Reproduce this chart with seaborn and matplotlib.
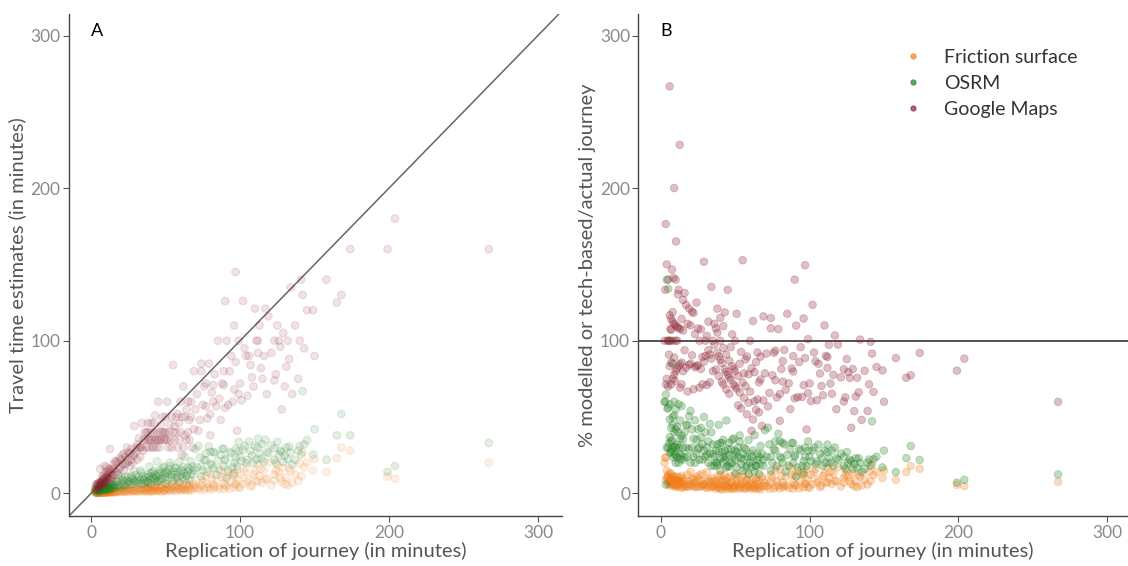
import numpy as np
import pandas as pd
import seaborn as sns
import matplotlib
matplotlib.use("Agg")
import matplotlib.pyplot as plt

# duration of the replicated journey (minutes)
journey = [2.5, 3, 3.4, 3.5, 4, 4, 4.5, 5, 5, 5, 6, 6, 6, 6.5, 7, 7, 7, 7.5, 8, 8, 8, 8.5, 9, 9, 9, 9.5,
           10.3, 10, 10, 10, 11, 11, 11.5, 12, 12, 12.7, 13, 13, 14, 14, 15, 15, 16, 16,
           17, 18, 18, 19, 20, 20, 21, 22, 22, 23, 24, 24, 25, 26, 26, 27, 28, 28, 29, 30, 30, 31, 32, 32, 33, 34, 34, 35,
           36, 36, 37, 38, 38, 38, 39, 40, 40, 40, 41, 42, 42, 43, 43, 44, 44, 45, 45, 46, 46, 47, 48, 48, 49, 50, 50, 50,
           51, 52, 52, 53, 54, 55, 55, 56, 57, 57, 58, 59, 60, 60, 61, 62, 62, 63, 64, 65, 65, 66, 67, 68, 69, 70,
           72, 74, 74, 76, 77, 78, 79, 80, 82, 82, 84, 85, 87, 89, 89, 90, 91, 92, 94, 96, 96, 97, 98, 99, 99,
           101, 102, 104, 106, 108, 110, 111, 112, 113, 115, 116, 117, 119, 123, 123, 125, 126, 128, 129, 131, 132, 134,
           135, 140, 141, 142, 145, 149, 150,
           158, 165, 168, 174, 199, 204, 267,
           5.5, 6, 7, 8, 9, 10, 11, 12, 13, 14, 15, 17, 19, 21, 23, 25, 27, 29, 31, 33, 35, 37, 39, 41, 42,
           44, 46, 47, 49, 51, 53, 54, 56, 58, 59, 61, 63, 64, 66, 67, 69, 71, 73, 75, 77, 80, 81, 83, 86, 88,
           90, 93, 95, 97, 100, 103, 105, 107, 109, 112, 114, 118, 121, 124, 127, 130, 133, 137, 139, 143]

# estimates (minutes)
google = [2.5, 4, 6, 2.5, 6, 3, 4.5, 7, 5, 3.5, 16, 5, 7, 7, 8, 6, 5, 11, 9, 8, 6, 12, 18, 10, 8, 7,
          17, 14, 10, 8, 12, 9, 15, 10, 13, 29, 11, 14, 16, 10, 19, 12, 15, 21,
          14, 20, 12, 23, 17, 22, 19, 26, 15, 24, 30, 20, 21, 26, 18, 29, 25, 20, 44, 27, 30, 22, 30, 36, 24, 46, 30, 35,
          40, 35, 30, 40, 35, 46, 30, 35, 40, 46, 35, 30, 40, 35, 51, 40, 35, 60, 35, 40, 30, 35, 40, 50, 35, 40, 35, 50,
          60, 30, 40, 35, 50, 84, 40, 35, 50, 40, 30, 46, 60, 40, 25, 70, 30, 50, 35, 60, 40, 35, 50, 30, 80, 55,
          41, 85, 80, 70, 57, 49, 85, 38, 71, 60, 57, 100, 48, 80, 71, 126, 100, 58, 90, 110, 68, 145, 41, 100, 65,
          61, 126, 90, 90, 76, 121, 100, 92, 110, 75, 90, 121, 116, 100, 74, 110, 100, 55, 105, 83, 100, 135,
          65, 100, 140, 130, 120, 120, 90,
          140, 125, 130, 160, 160, 180, 160,
          5, 6, 7.5, 9.5, 7, 11, 11, 16, 9, 12, 16, 21, 16, 25, 19, 27, 22, 25, 32, 30, 28, 40, 35, 30, 46,
          30, 35, 45, 40, 35, 45, 30, 44, 52, 35, 50, 38, 55, 48, 60, 42, 65, 48, 58, 72, 52, 66, 78, 62, 72,
          56, 80, 60, 86, 72, 95, 64, 84, 70, 100, 82, 65, 92, 78, 96, 70, 88, 110, 75, 95]

osrm = [1.5, 1.8, 2.2, 0.2, 5.6, 1.2, 2.5, 6.7, 2.8, 1.5, 2.2, 1.6, 2.9, 6.5, 2.0, 3.0, 1.9, 2.6, 6.8, 2.4, 3.6, 2.0, 3.6, 2.3, 5.4, 2.9,
        3.1, 2.5, 4.2, 2.0, 3.5, 2.6, 4.6, 3.6, 7.0, 3.3, 2.9, 4.6, 3.5, 5.3, 4.5, 3.3, 6.4, 3.8,
        5.1, 4.3, 8.1, 5.5, 4.0, 10.8, 6.3, 5.3, 7.9, 4.6, 8.4, 6.2, 10.5, 5.7, 7.8, 11.6, 6.2, 9.0, 8.1, 12.0, 7.2, 9.3, 6.4, 10.9, 8.6, 13.6, 6.1, 11.2,
        8.6, 6.5, 10.4, 12.2, 7.6, 7.0, 10.9, 13.2, 9.2, 6.0, 11.1, 8.4, 14.7, 12.0, 9.5, 7.5, 10.6, 13.1, 8.1, 8.0, 11.5, 13.6, 9.6, 16.8, 12.3, 6.5, 11.0, 14.0,
        8.7, 15.6, 12.5, 18.0, 10.3, 14.3, 8.0, 12.3, 16.5, 9.7, 13.9, 7.5, 12.0, 15.6, 10.4, 17.4, 13.0, 9.0, 11.5, 16.9, 14.3, 8.5, 12.7, 17.7, 15.2, 29.0,
        31.0, 17.8, 11.0, 22.0, 26.2, 14.0, 30.8, 19.2, 27.1, 16.4, 12.0, 21.3, 25.2, 17.8, 29.4, 22.5, 10.0, 15.6, 26.3, 20.2, 13.0, 23.3, 17.6, 27.7, 33.7,
        21.2, 28.6, 19.8, 33.9, 24.8, 30.8, 22.2, 35.8, 26.0, 32.2, 20.9, 35.1, 26.2, 29.5, 22.1, 33.8, 25.2, 27.0, 20.6, 30.1, 22.4, 26.8,
        18.9, 31.0, 25.4, 67.0, 34.8, 25.3, 42.0,
        22, 38, 52, 38, 14, 18, 33,
        1.8, 3.5, 2.4, 4.0, 4.6, 5.5, 4.8, 2.4, 6.2, 8.0, 5.3, 7.6, 9.6, 8.8, 11.0, 7.3, 9.9, 14.5, 7.8, 15.0, 9.0, 7.5, 17.5, 13.5, 10.1,
        21.0, 15.2, 9.4, 17.6, 13.8, 20.1, 12.4, 16.8, 10.4, 20.6, 14.6, 24.0, 11.5, 15.8, 20.8, 12.4, 17.0, 23.4, 15.0, 21.6, 27.2, 18.6, 26.6, 15.5, 29.0,
        21.6, 27.0, 17.1, 29.1, 24.0, 31.0, 22.0, 27.8, 19.6, 30.2, 22.8, 27.1, 31.5, 20.0, 28.0, 24.7, 30.6, 21.9, 28.0, 32.0]

friction = [0.5, 0.7, 0.8, 0.3, 0.6, 0.4, 0.5, 0.6, 0.4, 0.3, 0.6, 0.5, 0.8, 0.4, 0.9, 0.5, 0.6, 0.5, 0.7, 0.5, 0.9, 0.6, 0.8, 0.5, 1.0, 0.7,
            0.6, 0.8, 1.0, 0.5, 1.2, 0.6, 0.9, 1.0, 0.7, 1.0, 1.3, 0.8, 1.1, 1.6, 1.0, 1.5, 0.8, 1.3,
            1.0, 2.2, 0.9, 1.5, 2.8, 1.2, 1.0, 2.0, 1.5, 0.9, 2.6, 1.7, 1.0, 3.1, 1.3, 2.2, 1.4, 3.6, 1.7, 2.4, 1.2, 4.3, 1.6, 2.9, 1.3, 2.4, 3.4, 1.4,
            2.9, 1.8, 1.1, 4.2, 2.3, 1.5, 3.5, 2.0, 1.2, 4.8, 2.9, 1.7, 3.4, 2.2, 5.2, 1.3, 3.5, 2.3, 4.5, 1.8, 2.8, 5.2, 1.4, 3.4, 2.0, 6.0, 2.5, 1.5,
            4.1, 2.6, 5.7, 1.6, 3.2, 2.2, 6.6, 3.9, 1.7, 4.6, 2.9, 7.1, 2.4, 4.2, 1.8, 5.6, 3.1, 2.5, 6.4, 3.9, 1.9, 5.3, 2.7, 7.5, 3.4, 4.9,
            3.6, 8.9, 5.2, 2.3, 11.6, 6.2, 4.0, 12.8, 5.7, 3.3, 9.2, 4.3, 14.8, 6.2, 2.7, 10.8, 4.6, 13.8, 7.5, 3.8, 11.5, 5.8, 15.7, 8.9, 4.0,
            12.1, 6.1, 16.6, 9.5, 5.4, 14.3, 7.8, 19.0, 11.3, 6.9, 15.1, 9.4, 20.2, 12.3, 8.6, 18.8, 13.9, 7.7, 16.8, 10.5, 5.3, 14.7,
            6.8, 19.6, 11.3, 26.9, 20.3, 14.9, 22.5,
            14, 23, 30, 28, 11, 9.5, 20,
            0.5, 0.3, 0.7, 0.4, 0.8, 0.4, 0.9, 0.5, 0.7, 0.5, 0.6, 0.7, 0.8, 2.0, 1.1, 2.4, 1.2, 1.7, 1.1, 2.6, 1.6, 3.0, 1.5, 1.0, 3.9,
            2.0, 1.3, 3.6, 1.9, 3.2, 2.1, 4.6, 1.8, 5.2, 2.3, 3.6, 2.0, 5.4, 2.9, 1.7, 6.1, 3.2, 2.2, 7.4, 3.5, 2.6, 9.0, 4.1, 2.9, 10.5,
            5.0, 3.0, 12.0, 6.3, 3.6, 14.0, 7.5, 4.3, 12.5, 8.0, 16.0, 9.4, 5.4, 15.0, 10.2, 6.0, 16.4, 12.3, 8.0, 17.0]

methods = ["Friction surface", "OSRM", "Google Maps"]
colours = ["#F07F1C", "#1F7F1F", "#8B1E2D"]

# long table, friction first so google sits on top
rows = []
for m, vals in zip(methods, [friction, osrm, google]):
    for x, v in zip(journey, vals):
        rows.append({"journey": x, "estimate": v, "method": m})
df = pd.DataFrame(rows)
df["pct"] = df["estimate"] / df["journey"] * 100

sns.set_theme(style="white")
plt.rcParams["font.family"] = ["Lato", "DejaVu Sans"]

fig = plt.figure(figsize=(11.28, 5.66), dpi=100)
axA = fig.add_axes([0.061, 0.088, 0.437, 0.887])
axB = fig.add_axes([0.566, 0.088, 0.434, 0.887])

pal = dict(zip(methods, colours))

sns.scatterplot(data=df, x="journey", y="estimate", hue="method", palette=pal,
                alpha=0.12, s=30, linewidth=0.9, edgecolor="face", ax=axA, legend=False)
axA.axline((0, 0), slope=1, color="#666666", lw=1.1, zorder=0)

sns.scatterplot(data=df, x="journey", y="pct", hue="method", palette=pal,
                alpha=0.28, s=30, linewidth=0.6, edgecolor="face", ax=axB)
axB.axhline(100, color="#222222", lw=1.1, zorder=0)

for ax, lab, ylab, xmax in [(axA, "A", "Travel time estimates (in minutes)", 316),
                            (axB, "B", "% modelled or tech-based/actual journey", 314)]:
    ax.set_xlim(-15, xmax)
    ax.set_ylim(-15, 314)
    ax.set_xticks([0, 100, 200, 300])
    ax.set_yticks([0, 100, 200, 300])
    ax.tick_params(axis="both", which="both", direction="out", length=4, width=0.8,
                   color="#555555", labelcolor="#8a8a8a", labelsize=12.5, bottom=True, left=True, pad=2)
    for side in ["top", "right"]:
        ax.spines[side].set_visible(False)
    for side in ["left", "bottom"]:
        ax.spines[side].set_color("#444444")
        ax.spines[side].set_linewidth(1.0)
    ax.set_xlabel("Replication of journey (in minutes)", fontsize=14.5, color="#555555", labelpad=1)
    ax.set_ylabel(ylab, fontsize=14.5, color="#555555", labelpad=3)
    ax.text(0, 303, lab, fontsize=13, color="black", ha="left", va="center")

leg = axB.legend(title=None, loc="upper left", bbox_to_anchor=(0.505, 0.965), frameon=False,
                 fontsize=14, markerscale=0.7, handlelength=1.0, handletextpad=1.1, labelspacing=0.45)
for h in leg.legend_handles:
    h.set_alpha(0.7)
for t in leg.get_texts():
    t.set_color("#333333")

fig.savefig("out.png", dpi=100)
